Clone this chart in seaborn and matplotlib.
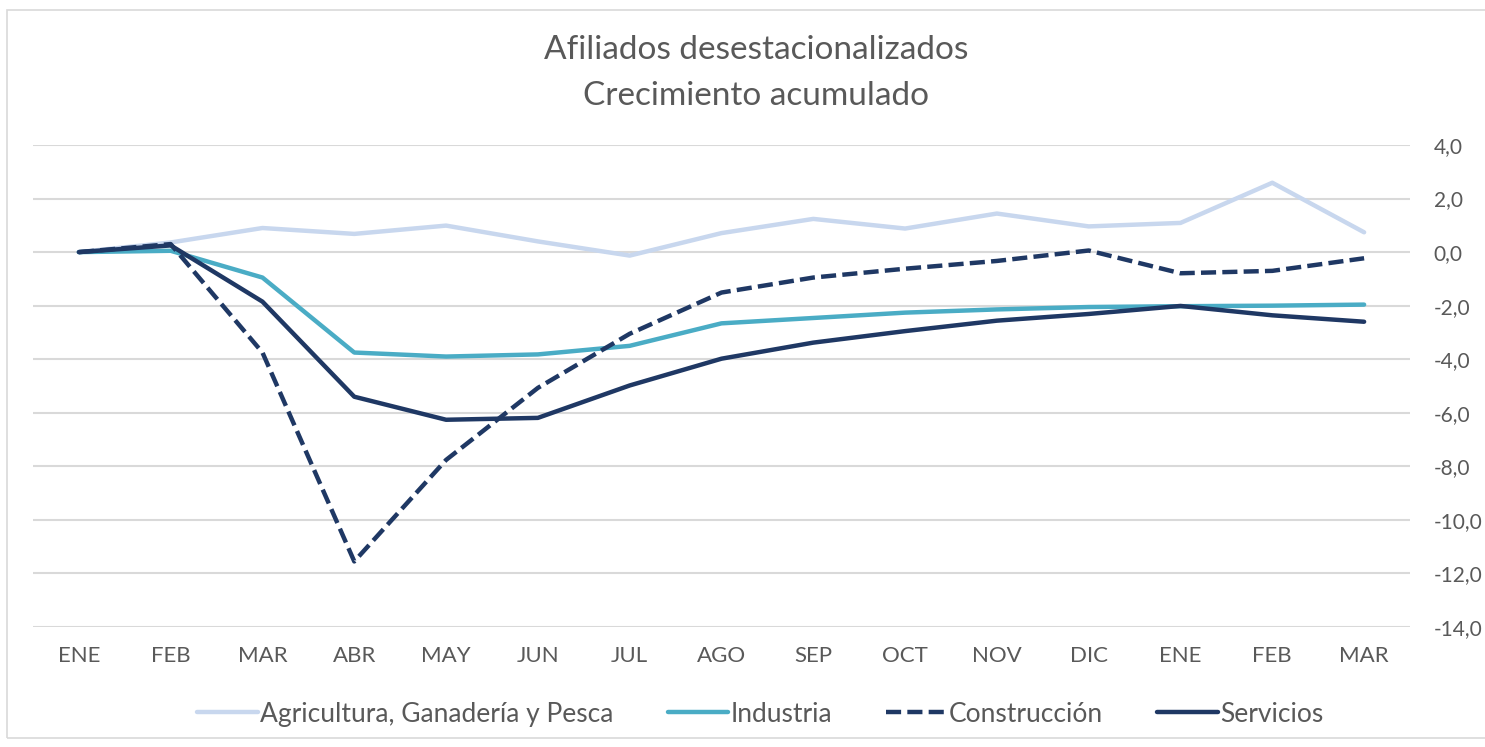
import pandas as pd
import matplotlib.pyplot as plt
import seaborn as sns
from matplotlib.patches import Rectangle

# Datos
meses = ['ENE', 'FEB', 'MAR', 'ABR', 'MAY', 'JUN', 'JUL', 'AGO', 'SEP',
         'OCT', 'NOV', 'DIC', 'ENE', 'FEB', 'MAR']
agricultura = [0.0, 0.36, 0.90, 0.68, 0.99, 0.40, -0.13, 0.71, 1.24, 0.88,
               1.44, 0.96, 1.09, 2.59, 0.74]
industria = [0.0, 0.05, -0.95, -3.75, -3.90, -3.82, -3.50, -2.66, -2.46,
             -2.26, -2.14, -2.05, -2.02, -2.00, -1.96]
construccion = [0.0, 0.30, -3.75, -11.55, -7.76, -5.07, -3.05, -1.51, -0.95,
                -0.62, -0.33, 0.06, -0.79, -0.70, -0.23]
servicios = [0.0, 0.25, -1.85, -5.40, -6.26, -6.19, -4.98, -3.98, -3.38,
             -2.95, -2.56, -2.31, -2.01, -2.36, -2.60]

series = {
    'Agricultura, Ganadería y Pesca': agricultura,
    'Industria': industria,
    'Construcción': construccion,
    'Servicios': servicios,
}

rows = []
for nombre, valores in series.items():
    for i, v in enumerate(valores):
        rows.append({'pos': i, 'valor': v, 'Sector': nombre})
df = pd.DataFrame(rows)

sns.set_style('white')
plt.rcParams['font.family'] = ['Lato', 'DejaVu Sans']

colores = {
    'Agricultura, Ganadería y Pesca': '#c8d7ee',
    'Industria': '#4aacc5',
    'Construcción': '#1f3864',
    'Servicios': '#1f3864',
}
estilos = {
    'Agricultura, Ganadería y Pesca': '',
    'Industria': '',
    'Construcción': (3.4, 1.4),
    'Servicios': '',
}

fig = plt.figure(figsize=(14.85, 7.47), dpi=100)
ax = fig.add_axes([0.0222, 0.1606, 0.9273, 0.6453])

sns.lineplot(data=df, x='pos', y='valor', hue='Sector', style='Sector',
             palette=colores, dashes=estilos, linewidth=3.2, ax=ax,
             legend=False, zorder=3)

ax.set_xlim(-0.5, len(meses) - 0.5)
ax.set_ylim(-14, 4)
ax.set_xticks(range(len(meses)))
ax.set_xticklabels(meses)
ax.set_yticks(range(-14, 5, 2))
ax.set_yticklabels([f'{v:.1f}'.replace('.', ',') for v in range(-14, 5, 2)])
ax.yaxis.tick_right()
for lab in ax.get_yticklabels():
    lab.set_horizontalalignment('left')
ax.tick_params(axis='y', length=0, pad=17, labelsize=15, labelcolor='#595959')
ax.tick_params(axis='x', length=0, pad=14, labelsize=16, labelcolor='#595959')
ax.set_xlabel('')
ax.set_ylabel('')
ax.grid(axis='y', color='#d9d9d9', linewidth=1.5)
ax.grid(axis='x', visible=False)
for s in ax.spines.values():
    s.set_visible(False)

# Títulos
fig.text(0.509, 0.933, 'Afiliados desestacionalizados', ha='center', va='center',
         fontsize=24, color='#595959')
fig.text(0.509, 0.872, 'Crecimiento acumulado', ha='center', va='center',
         fontsize=24, color='#595959')

# Leyenda
handles = []
for nombre in series:
    ls = (0, estilos[nombre]) if estilos[nombre] else '-'
    h, = ax.plot([], [], color=colores[nombre], linewidth=3.2, linestyle=ls)
    handles.append(h)
fig.legend(handles, list(series.keys()), loc='center', ncol=4,
           bbox_to_anchor=(0.512, 0.044), frameon=False, fontsize=19,
           handlelength=2.3, handletextpad=0.08, columnspacing=2.05,
           labelcolor='#595959')

# Marco del gráfico
fig.patches.append(Rectangle((0.005, 0.012), 1.2, 0.975, transform=fig.transFigure,
                             fill=False, edgecolor='#d9d9d9', linewidth=1.2))

fig.savefig('out.png', dpi=100)
